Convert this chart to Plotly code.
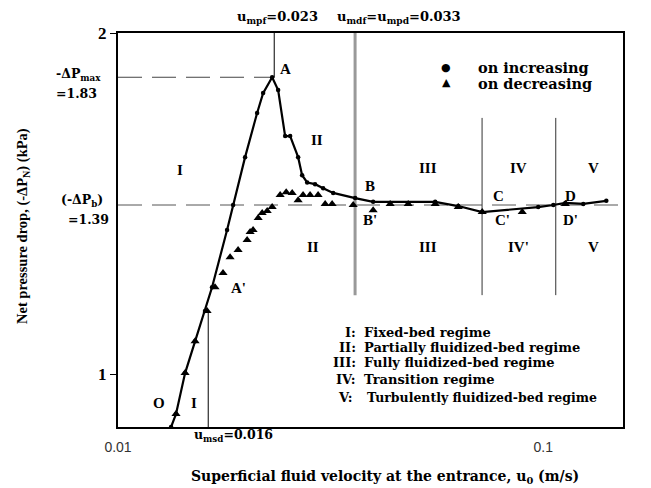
import numpy as np
import plotly.graph_objects as go

# ---------------- data ----------------
u_increasing = [0.01333, 0.01369, 0.01438, 0.01518, 0.01602, 0.01664, 0.01805, 0.01865,
                0.01990, 0.02124, 0.02194, 0.02304, 0.02380, 0.02472, 0.02540, 0.02652,
                0.02710, 0.02785, 0.02907, 0.03037, 0.03206, 0.03611, 0.03981, 0.0557,
                0.0631, 0.07185, 0.0973, 0.1056, 0.1127, 0.1242, 0.1407]
dp_increasing = [0.898, 0.922, 1.002, 1.069, 1.137, 1.193, 1.340, 1.410,
                 1.554, 1.700, 1.770, 1.828, 1.781, 1.622, 1.622, 1.554,
                 1.498, 1.476, 1.471, 1.459, 1.445, 1.430, 1.419, 1.419,
                 1.407, 1.390, 1.404, 1.410, 1.416, 1.413, 1.422]

u_decreasing = [0.01369, 0.01438, 0.01518, 0.01620, 0.01691, 0.01766, 0.01835, 0.01916,
                0.02012, 0.02045, 0.02078, 0.02136, 0.02183, 0.02243, 0.02304, 0.02406,
                0.02486, 0.02568, 0.02652, 0.02724, 0.02829, 0.02955, 0.03070, 0.03188,
                0.03573, 0.03981, 0.04365, 0.04813, 0.0557, 0.0631, 0.07185, 0.08925, 0.1127]
dp_decreasing = [0.922, 1.002, 1.069, 1.137, 1.193, 1.228, 1.268, 1.287,
                 1.313, 1.335, 1.340, 1.373, 1.387, 1.393, 1.404, 1.439,
                 1.447, 1.445, 1.424, 1.439, 1.439, 1.439, 1.413, 1.413,
                 1.410, 1.395, 1.413, 1.413, 1.413, 1.404, 1.390, 1.390, 1.413]

# reference (regime boundary) lines
dp_max = 1.828          # labelled 1.83
dp_b = 1.41             # labelled 1.39
u_msd, u_mpf, u_mdf = 0.0163, 0.0233, 0.0361
u_iv, u_v = 0.0718, 0.107
x_ticks = [0.01, 0.1]
x_ticktext = ["0.01", "0.1"]
y_ticks = [1, 2]
y_ticktext = ["1", "2"]

x_min, x_max = 0.01, 0.154
y_min, y_max = 0.898, 2.0

region_labels = [("I", 0.01399, 1.514), ("II", 0.02938, 1.609), ("II", 0.02872, 1.295),
                 ("III", 0.05362, 1.520), ("III", 0.05362, 1.295),
                 ("IV", 0.0873, 1.520), ("IV'", 0.0873, 1.295),
                 ("V", 0.1311, 1.520), ("V", 0.1311, 1.295),
                 ("O", 0.01249, 0.943), ("I", 0.01509, 0.943)]
point_labels = [("A", 0.02472, 1.859), ("A'", 0.01916, 1.191),
                ("B", 0.03917, 1.466), ("B'", 0.03917, 1.368),
                ("C", 0.0783, 1.436), ("C'", 0.0801, 1.368),
                ("D", 0.1158, 1.436), ("D'", 0.1158, 1.368),
                ("E", 0.1673, 1.41)]
regime_keys = ["I:", "II:", "III:", "IV:", "V:"]
regime_names = ["Fixed-bed regime", "Partially fluidized-bed regime",
                "Fully fluidized-bed regime", "Transition regime",
                "Turbulently fluidized-bed regime"]

# ---------------- figure ----------------
SERIF = "Liberation Serif"
WIDE = "DejaVu Serif"
fig = go.Figure()

def ref_line(xs, ys, color="black", width=1, dash="solid"):
    fig.add_trace(go.Scatter(x=xs, y=ys, mode="lines", showlegend=False, hoverinfo="skip",
                             line=dict(color=color, width=width, dash=dash)))

ref_line([x_min, u_mpf], [dp_max, dp_max], color="#444", dash="24px,10px")
ref_line([x_min, x_max], [dp_b, dp_b], color="#555", dash="24px,10px")
ref_line([u_msd, u_msd], [y_min, 1.139])
ref_line([u_mpf, u_mpf], [y_max, dp_max])
ref_line([u_mdf, u_mdf], [y_max, 1.174], color="#999", width=3)
ref_line([u_iv, u_iv], [1.683, 1.174], color="#333")
ref_line([u_v, u_v], [1.683, 1.174], color="#333")

fig.add_trace(go.Scatter(x=u_increasing, y=dp_increasing, mode="lines+markers",
                         name="on increasing", showlegend=False,
                         line=dict(color="black", width=2.2),
                         marker=dict(symbol="circle", size=4.5, color="black")))
fig.add_trace(go.Scatter(x=u_decreasing, y=dp_decreasing, mode="markers",
                         name="on decreasing", showlegend=False,
                         marker=dict(symbol="triangle-up", size=8, color="black")))

ann = []
def lg(v):
    return float(np.log10(v))

for t, x, y in region_labels + point_labels:
    ann.append(dict(x=lg(x), y=lg(y), xref="x", yref="y", text=t, showarrow=False,
                    font=dict(family=SERIF, size=15, color="black", weight="bold")))

# page coordinates of the plot area (the page has an 8px body margin)
W0, H0, PW, PH = 118, 33, 505, 394
def px(x):
    return (x - W0) / PW
def py(y):
    return (H0 + PH - y) / PH

def txt(text, x, y, anchor="center", size=12, family=WIDE, weight="bold", angle=0):
    ann.append(dict(x=px(x), y=py(y), xref="paper", yref="paper", text=text, showarrow=False,
                    xanchor=anchor, yanchor="middle", textangle=angle,
                    font=dict(family=family, size=size, color="black", weight=weight)))

# top/bottom velocity labels
txt("u<sub>mpf</sub>=0.023", 277, 17, size=13)
txt("u<sub>mdf</sub>=u<sub>mpd</sub>=0.033", 399, 17, size=13)
txt("u<sub>msd</sub>=0.016", 233, 436, size=12.5)
# left pressure labels
txt("-ΔP<sub>max</sub>", 54, 74, anchor="left", size=12.5)
txt("=1.83", 54, 93, anchor="left", size=12.5)
txt("(-ΔP<sub>b</sub>)", 59, 201, anchor="left", size=12.5)
txt("=1.39", 66, 219, anchor="left", size=12.5)
# legend
txt("●", 446, 68, size=11, weight="normal", family="DejaVu Sans")
txt("▲", 446, 82, size=11, weight="normal", family="DejaVu Sans")
txt("on increasing", 476, 68, anchor="left", size=14.5)
txt("on decreasing", 476, 83, anchor="left", size=14.5)
# regime key
for k, n, y in zip(regime_keys, regime_names, [332, 347, 362, 379, 397]):
    txt(k, 358 if k != "V:" else 355, y, anchor="right", size=13)
    txt(n, 362 if k != "V:" else 365, y, anchor="left", size=13 if k != "V:" else 12.5)
# axis titles
txt("Superficial fluid velocity at the entrance, u<sub>0</sub> (m/s)", 385, 477, size=14)
txt("Net pressure drop, (-ΔP<sub>N</sub>) (kPa)", 23, 226, size=14.5, family=SERIF, angle=-90)

fig.update_layout(
    width=643, height=480,
    margin=dict(l=110, r=28, t=25, b=61),
    paper_bgcolor="white", plot_bgcolor="white",
    showlegend=False,
    annotations=ann,
    xaxis=dict(type="log", range=[lg(x_min), lg(x_max)], tickvals=x_ticks, ticktext=x_ticktext,
               showgrid=False, zeroline=False, showline=True, linecolor="black", linewidth=2,
               mirror=True, ticks="", ticklabelstandoff=6,
               tickfont=dict(family="Liberation Sans", size=14, color="#333")),
    yaxis=dict(type="log", range=[lg(y_min), lg(y_max)], tickvals=y_ticks, ticktext=y_ticktext,
               showgrid=False, zeroline=False, showline=True, linecolor="black", linewidth=2,
               mirror=True, ticks="outside", ticklen=6, tickcolor="black",
               tickfont=dict(family=SERIF, size=17, color="black", weight="bold")),
)

fig.write_html("out.html")
